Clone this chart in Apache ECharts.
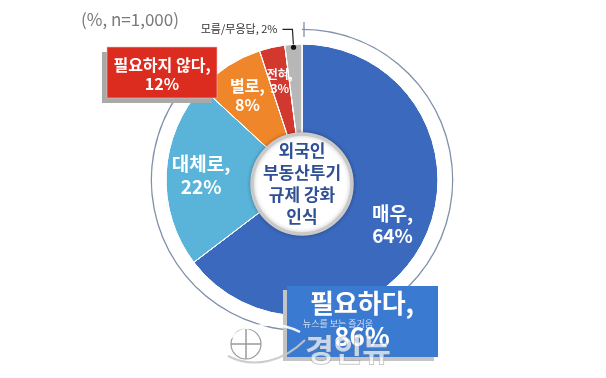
<!DOCTYPE html>
<html>
<head>
<meta charset="utf-8">
<style>
  html, body { margin: 0; padding: 0; background: #fff; }
  #main { width: 606px; height: 378px; }
</style>
<script src="https://cdn.jsdelivr.net/npm/echarts@6/dist/echarts.min.js"></script>
</head>
<body>
<div id="main"></div>
<script>
// 응답 항목 (시계방향, 12시 방향부터)
var names = ['매우', '대체로', '별로', '전혀', '모름/무응답'];
var values = [64, 22, 8, 3, 2];
var colors = ['#3b69bd', '#5ab4da', '#f0862a', '#d2382e', '#b7b7b7'];
var labelSizes = [19, 19, 16, 12, 11];

// 묶음 결과
var groupNames = ['필요하다', '필요하지 않다'];
var groupValues = [86, 12];

var centerText = '외국인\n부동산투기\n규제 강화\n인식';
var noteText = '(%, n=1,000)';

var FONT = '"Noto Sans CJK KR", "Noto Sans", sans-serif';
var cx = 302, cy = 180, R = 136;

var myChart = echarts.init(document.getElementById('main'));

// 빗금 무늬
var stripe = {
  symbol: 'none',
  dashArrayX: [1, 0],
  dashArrayY: [1, 2],
  rotation: -Math.PI / 4,
  color: 'rgba(255,255,255,0.22)'
};

var pieData = names.map(function (n, i) {
  return {
    name: n, value: values[i],
    itemStyle: { color: colors[i], decal: stripe }
  };
});

var labelData = names.map(function (n, i) {
  var last = i === names.length - 1;
  return {
    name: n, value: values[i],
    itemStyle: { color: 'transparent' },
    label: last ? {
      position: 'outside', formatter: '{b}, {c}%',
      fontSize: labelSizes[i], color: '#333', fontFamily: FONT
    } : {
      position: 'inside', formatter: '{b},\n{c}%',
      fontSize: labelSizes[i], fontWeight: 'bold', color: '#fff',
      lineHeight: labelSizes[i] * 1.2, fontFamily: FONT
    },
    labelLine: { show: last }
  };
});

// 모름/무응답 지시선 점 위치
var total = values.reduce(function (a, b) { return a + b; }, 0);
var before = total - values[values.length - 1];
var midA = (before + values[values.length - 1] / 2) / total * 2 * Math.PI;
var dotX = cx + (R - 3) * Math.sin(midA), dotY = cy - (R - 3) * Math.cos(midA);

var option = {
  backgroundColor: '#fff',
  title: {
    text: noteText, left: 76, top: 6,
    textStyle: { fontSize: 17, fontWeight: 'normal', color: '#7a7a7a', fontFamily: FONT }
  },
  series: [
    {
      // 바깥 '필요하다' 호
      type: 'pie', silent: true, center: [cx, cy], radius: [150, 151.3],
      startAngle: 90, label: { show: false }, labelLine: { show: false },
      data: [
        { value: groupValues[0], itemStyle: { color: '#7f90a8' } },
        { value: 100 - groupValues[0], itemStyle: { color: 'transparent' } }
      ]
    },
    {
      type: 'pie', silent: true, center: [cx, cy], radius: [0, R],
      startAngle: 90, label: { show: false }, labelLine: { show: false },
      itemStyle: { borderColor: '#fff', borderWidth: 1 },
      data: pieData
    },
    {
      // 라벨 전용
      type: 'pie', silent: true, center: [cx, cy], radius: [60, R],
      startAngle: 90, avoidLabelOverlap: false,
      labelLine: { length: 15, length2: 10, lineStyle: { color: '#222', width: 1.2 } },
      data: labelData, z: 3
    },
    {
      type: 'pie', silent: true, center: [cx, cy + 4], radius: [0, 50],
      itemStyle: { color: '#fff', borderColor: '#c9c9c9', borderWidth: 3.5,
                   shadowBlur: 4, shadowColor: 'rgba(0,0,0,0.25)' },
      label: {
        show: true, position: 'center', formatter: centerText,
        fontSize: 17, fontWeight: 'bold', lineHeight: 22, color: '#2f5092', fontFamily: FONT
      },
      labelLine: { show: false },
      data: [{ value: 1 }], z: 4
    }
  ],
  graphic: [
    // 호 시작 눈금
    { type: 'line', z: 50, shape: { x1: cx + 2, y1: 22, x2: cx + 2, y2: 37 },
      style: { stroke: '#7f90a8', lineWidth: 1.3 } },
    { type: 'circle', z: 50, shape: { cx: dotX, cy: dotY, r: 2.6 }, style: { fill: '#111' } },
    // 필요하지 않다 박스
    { type: 'rect', z: 60, shape: { x: 102, y: 52, width: 110, height: 51 }, style: { fill: '#a9a9a9' } },
    { type: 'rect', z: 61, shape: { x: 107, y: 47, width: 110, height: 51 },
      style: { fill: '#dc2b1f', stroke: '#f3c0bb', lineWidth: 0.6 } },
    { type: 'text', z: 62, x: 162, y: 74,
      style: { text: groupNames[1] + ',\n' + groupValues[1] + '%', fill: '#fff', fontSize: 16,
               fontWeight: 'bold', fontFamily: FONT, align: 'center', verticalAlign: 'middle', lineHeight: 19 } },
    // 필요하다 박스
    { type: 'rect', z: 60, shape: { x: 283, y: 290, width: 151, height: 71 }, style: { fill: '#c4c4c4' } },
    { type: 'rect', z: 61, shape: { x: 287, y: 286, width: 151, height: 71 }, style: { fill: '#3a7ad0' } },
    { type: 'text', z: 62, x: 362, y: 320,
      style: { text: groupNames[0] + ',\n' + groupValues[0] + '%', fill: '#fff', fontSize: 26,
               fontWeight: 'bold', fontFamily: FONT, align: 'center', verticalAlign: 'middle', lineHeight: 33 } },
    // 워터마크
    { type: 'circle', z: 70, shape: { cx: 246, cy: 344, r: 15 },
      style: { fill: 'rgba(255,255,255,0.85)', stroke: '#9a9a9a', lineWidth: 1.2 } },
    { type: 'line', z: 71, shape: { x1: 231, y1: 344, x2: 261, y2: 344 }, style: { stroke: '#9a9a9a', lineWidth: 1.5 } },
    { type: 'line', z: 71, shape: { x1: 246, y1: 329, x2: 246, y2: 359 }, style: { stroke: '#9a9a9a', lineWidth: 1.5 } },
    { type: 'bezierCurve', z: 70, shape: { x1: 218, y1: 352, x2: 300, y2: 332, cpx1: 240, cpy1: 318, cpx2: 280, cpy2: 322 },
      style: { stroke: 'rgba(255,255,255,0.9)', lineWidth: 2.5, fill: null } },
    { type: 'bezierCurve', z: 70, shape: { x1: 228, y1: 356, x2: 305, y2: 340, cpx1: 255, cpy1: 370, cpx2: 285, cpy2: 360 },
      style: { stroke: 'rgba(200,200,200,0.9)', lineWidth: 2, fill: null } },
    { type: 'text', z: 72, x: 338, y: 324,
      style: { text: '뉴스를 보는 즐거움', fill: 'rgba(255,255,255,0.75)', fontSize: 9, fontFamily: FONT,
               align: 'center', verticalAlign: 'middle' } },
    { type: 'text', z: 72, x: 348, y: 349,
      style: { text: '경인뉴', fill: 'rgba(255,255,255,0.7)', stroke: 'rgba(120,120,120,0.6)', lineWidth: 1,
               fontSize: 31, fontWeight: 'bold', fontFamily: FONT, align: 'center', verticalAlign: 'middle' } }
  ]
};

myChart.setOption(option);
</script>
</body>
</html>
